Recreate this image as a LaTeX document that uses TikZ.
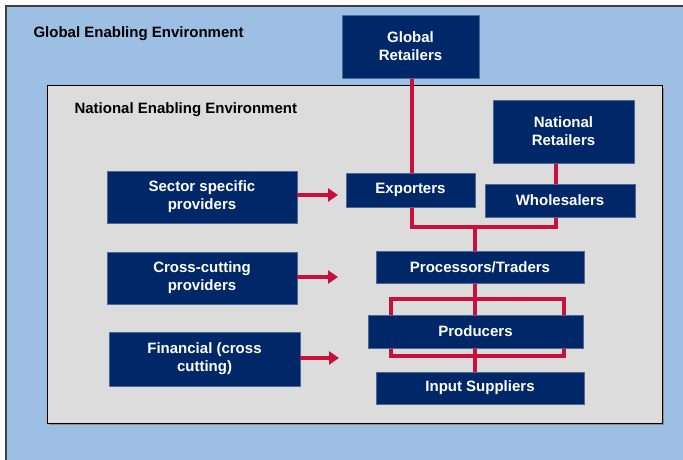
\documentclass[tikz,border=0pt]{standalone}
\usepackage{fontspec}
\setmainfont{Liberation Sans}
\usetikzlibrary{arrows.meta}
\definecolor{envblue}{RGB}{157,191,228}
\definecolor{envgray}{RGB}{220,220,220}
\definecolor{boxblue}{RGB}{0,40,104}
\definecolor{linered}{RGB}{200,16,60}
\tikzset{
	actor/.style={draw=boxblue!70!white, line width=0.6pt, fill=boxblue, text=white,
		font=\bfseries\fontsize{15}{18}\selectfont, align=center, inner sep=0pt},
	redline/.style={draw=linered, line width=4pt},
	feed/.style={redline, -{Triangle[length=10pt,width=13pt]}},
	envlabel/.style={anchor=west, font=\bfseries\fontsize{15}{16}\selectfont}
}

\begin{document}
\begin{tikzpicture}[x=1pt, y=-1pt]
		%%%%% START %%%%%
		\useasboundingbox (0, 0) rectangle (683, 460);
		
		% environments
		\fill[envblue] (6, 6) rectangle (683, 460);
		\draw[black!75, line width=1.5pt] (6, 460) -- (6, 6) -- (683, 6);
		\fill[black!45] (49, 88) rectangle (664, 425);
		\draw[fill=envgray, draw=black, line width=1pt] (47, 86) rectangle (662, 423);
		\node[envlabel] (glenv) at (30, 34) {Global Enabling Environment};
		\node[envlabel] (natenv) at (71, 110) {National Enabling Environment};
		
		% red links, drawn under the boxes
		\coordinate (junc) at (475, 227);
		\coordinate (glx) at (412, 78);
		\coordinate (natx) at (556, 163);
		\draw[redline] (glx) |- (natx |- junc) -- (natx);
		\draw[redline] (junc) -- (475, 251);
		\draw[redline] (475, 283) -- (475, 372);
		\draw[redline] (391, 299) rectangle (564, 356);
		
		% chain actors
		\node[actor, minimum width=137, minimum height=63] (glret) at (410.5, 46.5) {Global\\Retailers};
		\node[actor, minimum width=141, minimum height=63] (natret) at (563.5, 131.5) {National\\Retailers};
		\node[actor, minimum width=129, minimum height=34] (exporters) at (410.5, 190) {Exporters};
		\node[actor, minimum width=150, minimum height=33] (wholesalers) at (560, 200.5) {Wholesalers};
		\node[actor, minimum width=208, minimum height=32] (proc) at (480, 267) {Processors/Traders};
		\node[actor, minimum width=215, minimum height=33] (producers) at (475.5, 331.5) {Producers};
		\node[actor, minimum width=208, minimum height=32] (input) at (480, 388) {Input Suppliers};
		
		% service providers
		\node[actor, minimum width=190, minimum height=52] (sector) at (202, 197) {Sector specific\\providers};
		\node[actor, minimum width=190, minimum height=52] (cross) at (202, 278) {Cross-cutting\\providers};
		\node[actor, minimum width=191, minimum height=54] (financial) at (204.5, 359) {Financial (cross\\cutting)};
		
		\coordinate (sectorend) at (338, 195);
		\coordinate (crossend) at (338, 277);
		\coordinate (financialend) at (339, 358);
		\draw[feed] (sector.east |- sectorend) -- (sectorend);
		\draw[feed] (cross.east |- crossend) -- (crossend);
		\draw[feed] (financial.east |- financialend) -- (financialend);
		%%%%% END %%%%%
	\end{tikzpicture}
\end{document}
